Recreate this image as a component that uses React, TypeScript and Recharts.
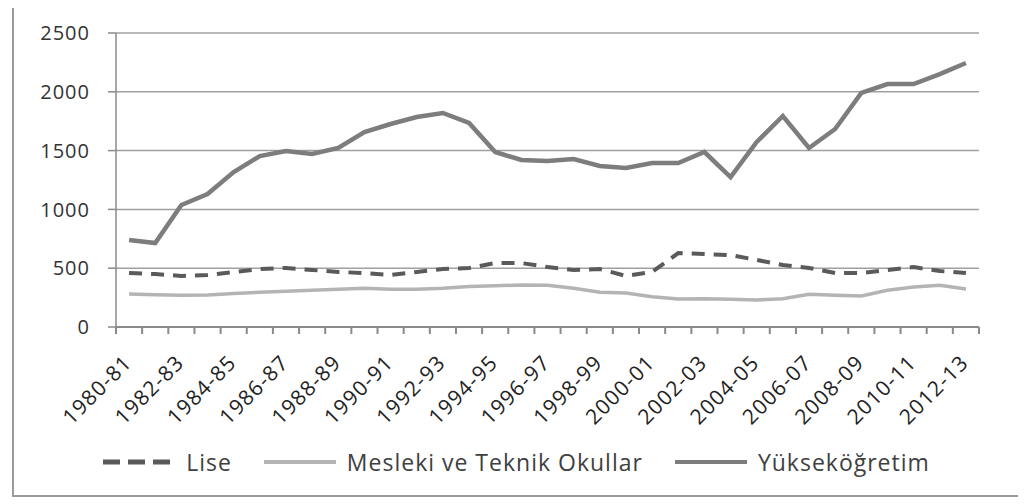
import { LineChart, Line, XAxis, YAxis, CartesianGrid, Legend } from "recharts";

const years = [
  "1980-81", "1981-82", "1982-83", "1983-84", "1984-85", "1985-86", "1986-87", "1987-88",
  "1988-89", "1989-90", "1990-91", "1991-92", "1992-93", "1993-94", "1994-95", "1995-96",
  "1996-97", "1997-98", "1998-99", "1999-00", "2000-01", "2001-02", "2002-03", "2003-04",
  "2004-05", "2005-06", "2006-07", "2007-08", "2008-09", "2009-10", "2010-11", "2011-12",
  "2012-13",
];

const lise = [
  459, 450, 434, 442, 468, 493, 502, 485, 468, 459, 442, 468, 493, 502, 544, 544,
  510, 485, 493, 434, 468, 629, 620, 612, 570, 527, 502, 459, 459, 485, 510, 476,
  459,
];

const mesleki = [
  280, 275, 270, 272, 285, 295, 305, 312, 322, 330, 322, 320, 330, 345, 350, 357,
  355, 330, 295, 289, 257, 238, 240, 235, 230, 240, 278, 270, 264, 312, 340, 355,
  323,
];

const yuksek = [
  740, 714, 1037, 1131, 1318, 1454, 1497, 1471, 1522, 1658, 1726, 1786, 1820, 1735, 1488, 1420,
  1411, 1428, 1369, 1352, 1394, 1394, 1488, 1275, 1573, 1794, 1522, 1684, 1990, 2066, 2066, 2151,
  2245,
];

const yTicks = [0, 500, 1000, 1500, 2000, 2500];

const data = years.map((y, i) => ({
  year: y,
  lise: lise[i],
  mesleki: mesleki[i],
  yuksek: yuksek[i],
}));

const FONT = "'Open Sans', 'DejaVu Sans', sans-serif";
const AXIS = "#8a8a8a";
const GRID = "#a0a0a0";

const SERIES = [
  { key: "lise", name: "Lise", color: "#5a5a5a", width: 4, dash: "13 9" },
  { key: "mesleki", name: "Mesleki ve Teknik Okullar", color: "#b4b4b4", width: 3.5, dash: undefined },
  { key: "yuksek", name: "Yükseköğretim", color: "#7d7d7d", width: 4.5, dash: undefined },
];

function XTick(props: any) {
  const { x, y, payload } = props;
  const half = payload.offset || 13;
  const ax = x + 4;
  const ay = y + 37;
  return (
    <g>
      <line x1={x - half} x2={x - half} y1={y} y2={y + 7} stroke={AXIS} strokeWidth={2} />
      <line x1={x + half} x2={x + half} y1={y} y2={y + 7} stroke={AXIS} strokeWidth={2} />
      <text
        x={ax}
        y={ay}
        transform={`rotate(-45 ${ax} ${ay})`}
        textAnchor="end"
        fontFamily={FONT}
        fontSize={21}
        letterSpacing={1.2}
        fill="#222"
      >
        {payload.value}
      </text>
    </g>
  );
}

function LegendBox() {
  return (
    <div
      style={{
        height: 30,
        display: "flex",
        alignItems: "center",
        justifyContent: "center",
        gap: 32,
        fontFamily: FONT,
        fontSize: 23,
        letterSpacing: 1,
        color: "#404040",
        paddingLeft: 40,
      }}
    >
      {SERIES.map((s) => (
        <div key={s.key} style={{ display: "flex", alignItems: "center", gap: 11 }}>
          <svg width={72} height={10}>
            <line
              x1={0}
              x2={72}
              y1={5}
              y2={5}
              stroke={s.color}
              strokeWidth={s.key === "lise" ? 5 : 4}
              strokeDasharray={s.key === "lise" ? "17 8" : undefined}
            />
          </svg>
          <span>{s.name}</span>
        </div>
      ))}
    </div>
  );
}

export default function App() {
  return (
    <div
      style={{
        margin: "-4px 0 0 4px",
        width: 1006,
        height: 490,
        borderTop: "1px solid #222",
        borderLeft: "2px solid #9a9a9a",
        borderRight: "2px solid #9a9a9a",
        borderBottom: "2px solid #9a9a9a",
        background: "#fff",
      }}
    >
      <LineChart
        width={1006}
        height={490}
        data={data}
        margin={{ top: 28, right: 41, bottom: 18, left: 0 }}
      >
        <CartesianGrid vertical={false} stroke={GRID} strokeWidth={1.5} />
        <XAxis
          dataKey="year"
          scale="band"
          interval={1}
          height={120}
          tickLine={false}
          tickSize={0}
          tickMargin={0}
          stroke={AXIS}
          strokeWidth={2}
          tick={<XTick />}
        />
        <YAxis
          domain={[0, 2500]}
          ticks={yTicks}
          width={102}
          tickSize={8}
          tickMargin={18}
          stroke={AXIS}
          strokeWidth={1.5}
          tick={{ fontFamily: FONT, fontSize: 20, fill: "#333", letterSpacing: 1 }}
        />
        <Legend verticalAlign="bottom" content={() => <LegendBox />} />
        {SERIES.map((s) => (
          <Line
            key={s.key}
            type="linear"
            dataKey={s.key}
            name={s.name}
            stroke={s.color}
            strokeWidth={s.width}
            strokeDasharray={s.dash}
            dot={false}
            isAnimationActive={false}
          />
        ))}
      </LineChart>
    </div>
  );
}
